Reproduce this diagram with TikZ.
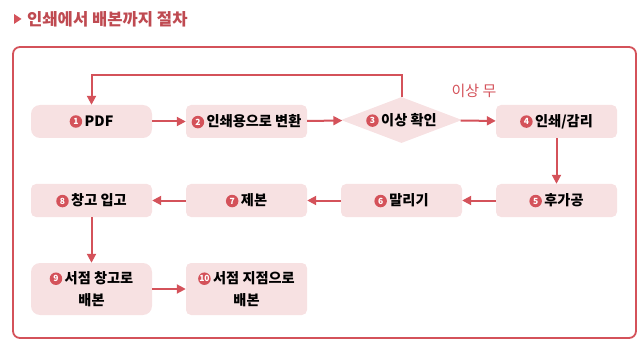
\documentclass[tikz,border=0pt]{standalone}
\usepackage{fontspec}
\setmainfont{Noto Sans CJK KR}
\usepackage{tikz}
\usetikzlibrary{arrows.meta, shapes.geometric}
\definecolor{myred}{RGB}{212,82,90}
\definecolor{mypink}{RGB}{247,225,226}
\colorlet{mytitle}{myred!90!black}
\newcommand{\stepno}[1]{\tikz[baseline=-0.6ex]\node[circle, fill=myred, text=white, inner sep=0pt,
    minimum size=12.5pt, font=\fontsize{8.5}{8.5}\selectfont]{#1};\hspace{2.5pt}}

\begin{document}
\begin{tikzpicture}[x=1pt, y=-1pt, >=Latex,
    box/.style={fill=mypink, rounded corners=5pt, minimum width=121pt, minimum height=33pt,
        inner sep=0pt, font=\fontsize{14.2}{22}\selectfont\bfseries, align=center},
    check/.style={diamond, fill=mypink, minimum width=121pt, minimum height=46pt, aspect=2.6,
        inner sep=0pt, font=\fontsize{14.2}{22}\selectfont\bfseries},
    arr/.style={draw=myred, line width=2pt, -{Triangle[length=9pt, width=9pt]}}]
    \useasboundingbox (0,0) rectangle (641,353);
    % title
    \fill[myred] (14,14) -- (21.5,19) -- (14,24) -- cycle;
    \node[anchor=west, text=mytitle, font=\fontsize{16.6}{16.6}\selectfont\bfseries, inner sep=0pt] (title) at (27,19) {인쇄에서 배본까지 절차};
    \draw[myred, line width=1.8pt, rounded corners=7pt] (13,47) rectangle (636,338);
    % row 1
    \node[box, rounded corners=9pt] (pdf) at (91.5,121.5) {\stepno{1}PDF};
    \node[box] (convert) at (246.5,121.5) {\stepno{2}인쇄용으로 변환};
    \node[check] (test) at (401.5,120) {\stepno{3}이상 확인};
    \node[box] (print) at (556.5,121.5) {\stepno{4}인쇄/감리};
    \node[text=myred, font=\fontsize{15}{15}\selectfont] (ok) at (474,91) {이상 무};
    % row 2
    \node[box] (finish) at (556.5,200.5) {\stepno{5}후가공};
    \node[box] (dry) at (401.5,200.5) {\stepno{6}말리기};
    \node[box] (bind) at (246.5,200.5) {\stepno{7}제본};
    \node[box] (store) at (91.5,200.5) {\stepno{8}창고 입고};
    % row 3
    \node[box, rounded corners=9pt, minimum height=52pt] (ship) at (91.5,289) {\stepno{9}서점 창고로\\배본};
    \node[box, minimum height=52pt] (branch) at (246.5,289) {\stepno{10}서점 지점으로\\배본};
    % arrows
    \draw[arr] (pdf) -- (convert);
    \draw[arr] (convert) -- (test);
    \draw[arr] (test) -- (print);
    \draw[arr] (test.north) -- ++(0,-22) -| (pdf.north);
    \draw[arr] (print) -- (finish);
    \draw[arr] (finish) -- (dry);
    \draw[arr] (dry) -- (bind);
    \draw[arr] (bind) -- (store);
    \draw[arr] (store) -- (ship);
    \draw[arr] (ship) -- (branch);
\end{tikzpicture}
\end{document}
